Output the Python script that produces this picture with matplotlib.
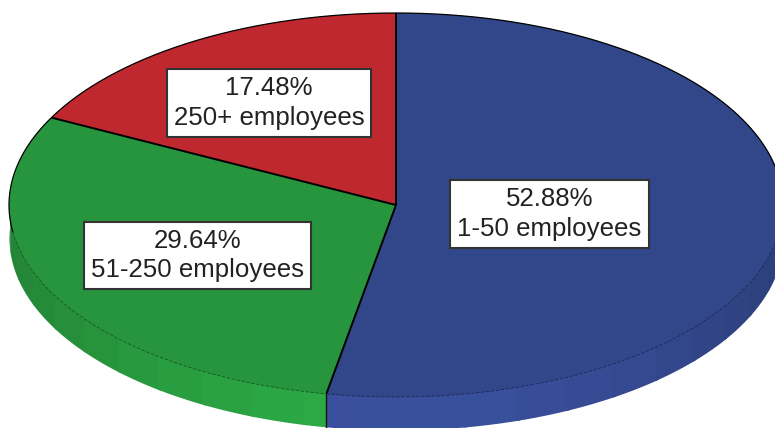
import numpy as np
import matplotlib
matplotlib.use("Agg")
import matplotlib.pyplot as plt
from matplotlib.colors import to_rgb

plt.rcParams['font.family'] = ['Liberation Sans', 'DejaVu Sans']

categories = ["1-50 employees", "51-250 employees", "250+ employees"]
shares = [52.88, 29.64, 17.48]
colors = ["#32468a", "#27953d", "#bf282e"]
label_px = [(549.5, 213), (197.5, 254.5), (269, 102)]

W, H = 775, 428
CX, CY, RX, RY, DEPTH = 396, 205, 387, 192, 33

fig = plt.figure(figsize=(W / 100, H / 100), dpi=100)
ax = fig.add_axes([0, 0, 1, 1])


def ux(px):
    return (px - CX) / RX


def uy(py):
    return (CY - py) / RY


d = DEPTH / RY

# wedge limits in degrees, clockwise from 12 o'clock
edges = 90 - np.concatenate([[0], np.cumsum(shares)]) * 3.6

# side wall, banded like the original shading
for i, col in enumerate(colors):
    a0, a1 = edges[i + 1], edges[i]
    rgb = np.array(to_rgb(col))
    bands = np.arange(np.floor(a0 / 8) * 8, a1 + 8, 8)
    for b0, b1 in zip(bands[:-1], bands[1:]):
        lo, hi = max(b0, a0), min(b1, a1)
        if hi <= lo:
            continue
        t = np.radians(np.linspace(lo, min(hi + 0.6, a1), 12))
        mid = np.radians((lo + hi) / 2)
        f = 0.90 + 0.24 * max(0.0, -np.sin(mid)) ** 2.2
        c = np.clip(rgb * f, 0, 1)
        s = np.sin(t)
        ax.fill_between(np.cos(t), s - d, np.where(s < 0, s + 0.03, s), color=c, lw=0, zorder=1)

# boundary on the side wall between blue and green
ta = np.radians(edges[1])
ax.plot([np.cos(ta)] * 2, [np.sin(ta), np.sin(ta) - d], color="#111111", lw=1.0, zorder=2)

# top face
ax.pie(shares, colors=colors, startangle=90, counterclock=False, radius=1,
       wedgeprops=dict(linewidth=0), frame=False)
for p in ax.patches:
    p.set_zorder(3)
ax.set_aspect("auto")
ax.set_xlim(ux(0), ux(W))
ax.set_ylim(uy(H), uy(0))
ax.axis("off")

# radial outlines
for a in edges[:-1]:
    t = np.radians(a)
    ax.plot([0, np.cos(t)], [0, np.sin(t)], color="black", lw=1.4, zorder=4,
            solid_capstyle="butt")

# rim: black along the back half, faint dashes along the front
t = np.radians(np.linspace(-5, 188, 400))
ax.plot(np.cos(t), np.sin(t), color="black", lw=0.9, zorder=4)
t = np.radians(np.linspace(edges[1], -5, 200))
ax.plot(np.cos(t), np.sin(t), color="#1c2a55", lw=0.6, ls=(0, (4, 2)), zorder=4)
t = np.radians(np.linspace(188, edges[1] + 360, 200))
ax.plot(np.cos(t), np.sin(t), color="#145a24", lw=0.6, ls=(0, (4, 2)), zorder=4)

# labels
for name, val, (px, py) in zip(categories, shares, label_px):
    ax.text(ux(px), uy(py + 1), f"{val:.2f}%\n{name}", ha="center", va="center",
            fontsize=18.6, color="#222222", linespacing=1.3, zorder=6,
            bbox=dict(boxstyle="square,pad=0.27", fc="white", ec="#333333", lw=1.5))

fig.savefig("out.png", dpi=100)
